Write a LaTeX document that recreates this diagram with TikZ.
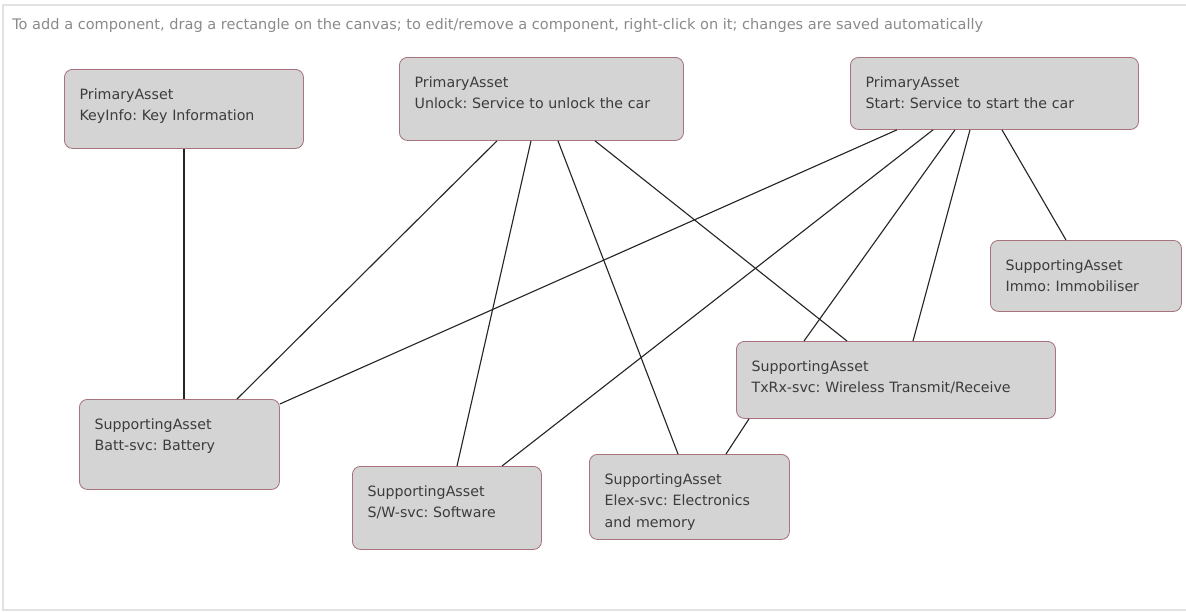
\documentclass[tikz,border=0pt]{standalone}
\usepackage{fontspec}
\setmainfont{DejaVu Sans}
\frenchspacing
\usetikzlibrary{calc,positioning}
\definecolor{assetfill}{HTML}{D4D4D4}
\definecolor{assetline}{HTML}{A8737C}
\definecolor{assettext}{HTML}{3C3C3C}
\definecolor{hinttext}{HTML}{8A8A8A}
\definecolor{canvasline}{HTML}{E2E2E2}
\newcommand{\assetfont}{\fontsize{10.1}{15.3}\selectfont}
\tikzset{
  asset/.style={draw=assetline, fill=assetfill, line width=0.6pt, rounded corners=0.2cm,
    anchor=north west, inner xsep=0.38cm, inner ysep=0.475cm, align=left,
    text=assettext, font=\assetfont},
  link/.style={draw=black!85, line width=0.8pt}
}
\begin{document}
\begin{tikzpicture}[x=0.025cm, y=-0.025cm]

	\useasboundingbox (0,0) rectangle (1186,612);

	%% canvas frame and hint line
	\draw[canvasline, line width=0.8pt] (1186,5) -- (3,5) -- (3,610) -- (1186,610);
	\node[anchor=base west, inner sep=0pt, text=hinttext, font=\fontsize{10.35}{12}\selectfont] (hint) at (12,29)
	  {To add a component, drag a rectangle on the canvas; to edit/remove a component, right-click on it; changes are saved automatically};

	%% primary assets (top row)
	\node[asset, text width=5.215cm, text depth=0.755cm] (keyinfo) at (64,69)
	  {PrimaryAsset\\KeyInfo: Key Information};
	\node[asset, text width=6.34cm, text depth=0.855cm] (unlock) at (399,57)
	  {PrimaryAsset\\Unlock: Service to unlock the car};
	\node[asset, text width=6.44cm, text depth=0.58cm] (start) at (850,57)
	  {PrimaryAsset\\Start: Service to start the car};

	%% supporting assets
	\node[asset, text width=4.015cm, text depth=0.555cm] (immo) at (990,240)
	  {SupportingAsset\\Immo: Immobiliser};
	\node[asset, text width=7.215cm, text depth=0.705cm] (txrx) at (736,341)
	  {SupportingAsset\\TxRx-svc: Wireless Transmit/Receive};
	\node[asset, text width=4.24cm, text depth=1.03cm] (batt) at (79,399)
	  {SupportingAsset\\Batt-svc: Battery};
	\node[asset, text width=3.965cm, text depth=0.855cm] (sw) at (352,466)
	  {SupportingAsset\\S/W-svc: Software};
	\node[asset, text width=4.24cm, text depth=0.905cm] (elex) at (589,454)
	  {SupportingAsset\\Elex-svc: Electronics\\and memory};

	%% links
	\draw[link] ($(keyinfo.south west)+(120,0)$) -- ($(batt.north west)+(105,0)$);

	\draw[link] ($(unlock.south west)+(98,0)$) -- ($(batt.north west)+(158,0)$);
	\draw[link] ($(unlock.south west)+(132,0)$) -- ($(sw.north west)+(105,0)$);
	\draw[link] ($(unlock.south west)+(159,0)$) -- ($(elex.north west)+(89,0)$);
	\draw[link] ($(unlock.south west)+(196,0)$) -- ($(txrx.north west)+(111,0)$);

	\draw[link] ($(start.south west)+(47,0)$) -- ($(batt.north east)+(0,5)$);
	\draw[link] ($(start.south west)+(83,0)$) -- ($(sw.north west)+(150,0)$);
	\draw[link] ($(start.south west)+(105,0)$) -- ($(txrx.north west)+(68,0)$);
	\draw[link] ($(start.south west)+(120,0)$) -- ($(txrx.north west)+(177,0)$);
	\draw[link] ($(start.south west)+(152,0)$) -- ($(immo.north west)+(76,0)$);

	\draw[link] ($(txrx.south west)+(13,0)$) -- ($(elex.north west)+(137,0)$);

\end{tikzpicture}
\end{document}
